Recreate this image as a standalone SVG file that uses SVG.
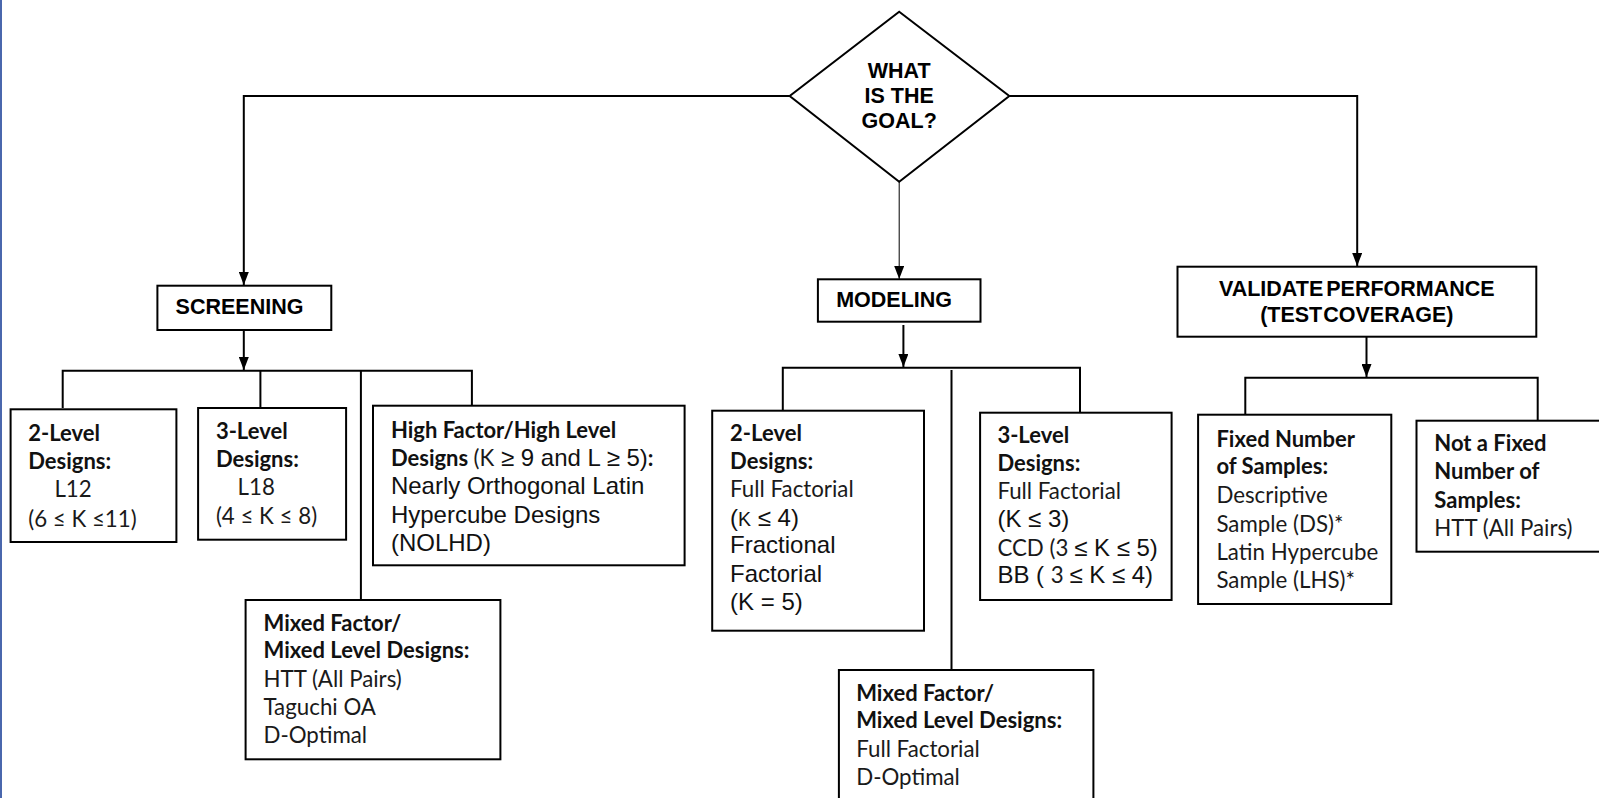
<svg xmlns="http://www.w3.org/2000/svg" width="1599" height="798" viewBox="0 0 1599 798">
<style>
.bx{fill:#fff;stroke:#000;stroke-width:2}
.ln{fill:none;stroke:#000;stroke-width:2}
.thin{fill:none;stroke:#000;stroke-width:1}
.hd{font-family:"Liberation Sans",Arial,sans-serif;font-weight:bold;font-size:21.5px;fill:#000}
.b{font-family:Lato,"Open Sans",sans-serif;font-weight:bold;font-size:22px;fill:#111}
.r{font-family:Lato,"Open Sans",sans-serif;font-size:22.3px;fill:#1a1a1a}
.a{font-family:"Liberation Sans",Arial,sans-serif;font-size:24px;fill:#111}
.as{font-family:"Liberation Sans",Arial,sans-serif;font-size:19.5px;fill:#111}
</style>
<defs>
<marker id="ar" markerUnits="userSpaceOnUse" markerWidth="14" markerHeight="10" refX="13" refY="5" orient="auto">
<path d="M0,0 L13,5 L0,10 Z" fill="#000"/>
</marker>
</defs>
<rect x="0" y="0" width="1599" height="798" fill="#fff"/>
<rect x="0" y="0" width="2" height="798" fill="#4a67ad"/>

<g id="connectors">
<path class="ln" d="M789.7,96 H243.8 V285" marker-end="url(#ar)"/>
<path class="ln" d="M1009.3,96 H1357.2 V266" marker-end="url(#ar)"/>
<path class="thin" d="M899.2,182 V279" marker-end="url(#ar)"/>
<path class="ln" d="M243.8,330 V370" marker-end="url(#ar)"/>
<path class="ln" d="M62.7,408 V370.7 H471.9 V405"/>
<path class="ln" d="M260.4,370.7 V407"/>
<path class="ln" d="M360.9,370.7 V600"/>
<path class="ln" d="M903.4,325 V367" marker-end="url(#ar)"/>
<path class="ln" d="M782.8,410 V367.7 H1080 V412"/>
<path class="ln" d="M951.5,370 V670"/>
<path class="ln" d="M1366.5,337 V377" marker-end="url(#ar)"/>
<path class="ln" d="M1245.3,414 V377.7 H1537.7 V420"/>
</g>

<g id="goal">
<polygon class="bx" points="899.2,11.7 1009.3,96 899.2,181.7 789.7,96"/>
<text class="hd" x="899.2" y="77.7" text-anchor="middle">WHAT</text>
<text class="hd" x="899.2" y="103.3" text-anchor="middle">IS THE</text>
<text class="hd" x="899.2" y="128.3" text-anchor="middle">GOAL?</text>
</g>

<g id="screening">
<rect class="bx" x="157.4" y="285.7" width="173.9" height="44.3"/>
<text class="hd" x="175.6" y="314">SCREENING</text>
</g>

<g id="modeling">
<rect class="bx" x="817.9" y="279.3" width="162.6" height="42.4"/>
<text class="hd" x="836.2" y="307.3">MODELING</text>
</g>

<g id="validate">
<rect class="bx" x="1177.5" y="266.7" width="358.8" height="70"/>
<text class="hd" x="1356.8" y="295.7" text-anchor="middle" word-spacing="-3">VALIDATE PERFORMANCE</text>
<text class="hd" x="1356.8" y="321.7" text-anchor="middle" word-spacing="-5">(TEST COVERAGE)</text>
</g>

<g id="scr-2level">
<rect class="bx" x="10.6" y="409.3" width="165.8" height="132.7"/>
<text class="b" x="28.2" y="441">2-Level</text>
<text class="b" x="28.2" y="469.3">Designs:</text>
<text class="r" x="54.4" y="497.3">L12</text>
<text class="r" x="28.2" y="526.7" font-size="24.5">(6 ≤ K ≤11)</text>
</g>

<g id="scr-3level">
<rect class="bx" x="198.1" y="408" width="148" height="131.7"/>
<text class="b" x="215.9" y="439">3-Level</text>
<text class="b" x="215.9" y="467.3">Designs:</text>
<text class="r" x="237.6" y="495">L18</text>
<text class="r" x="215.9" y="524" font-size="24.5">(4 ≤ K ≤ 8)</text>
</g>

<g id="scr-high">
<rect class="bx" x="373" y="405.7" width="311.6" height="159.6"/>
<text class="b" x="390.9" y="438.3">High Factor/High Level</text>
<text x="390.9" y="466"><tspan class="b">Designs </tspan><tspan class="r">(K</tspan><tspan class="a"> ≥ 9 and L ≥ 5)</tspan><tspan class="b">:</tspan></text>
<text class="a" x="390.9" y="494.3">Nearly Orthogonal Latin</text>
<text class="a" x="390.9" y="522.7">Hypercube Designs</text>
<text class="a" x="390.9" y="550.7">(NOLHD)</text>
</g>

<g id="scr-mixed">
<rect class="bx" x="245.6" y="600" width="254.8" height="159.3"/>
<text class="b" x="263.5" y="630.7">Mixed Factor/</text>
<text class="b" x="263.5" y="658.3">Mixed Level Designs:</text>
<text class="r" x="263.5" y="686.7">HTT (All Pairs)</text>
<text class="r" x="263.5" y="715">Taguchi OA</text>
<text class="r" x="263.5" y="743.3">D-Optimal</text>
</g>

<g id="mod-2level">
<rect class="bx" x="712.2" y="410.7" width="211.8" height="220"/>
<text class="b" x="730.1" y="441">2-Level</text>
<text class="b" x="730.1" y="469.3">Designs:</text>
<text class="r" x="730.1" y="497.3">Full Factorial</text>
<text x="730.1" y="526"><tspan class="a">(</tspan><tspan class="as">K</tspan><tspan class="a"> ≤ 4)</tspan></text>
<text class="a" x="730.1" y="553.3">Fractional</text>
<text class="a" x="730.1" y="581.7">Factorial</text>
<text class="a" x="730.1" y="610">(K = 5)</text>
</g>

<g id="mod-3level">
<rect class="bx" x="980.1" y="412.7" width="191.5" height="187.3"/>
<text class="b" x="997.4" y="443.3">3-Level</text>
<text class="b" x="997.4" y="471">Designs:</text>
<text class="r" x="997.4" y="499.3">Full Factorial</text>
<text class="a" x="997.4" y="527.3">(K ≤ 3)</text>
<text x="997.4" y="556"><tspan class="r">CCD (3 </tspan><tspan class="a">≤ K ≤ 5)</tspan></text>
<text x="997.4" y="583.3"><tspan class="a">BB ( </tspan><tspan class="r">3 </tspan><tspan class="a">≤ K ≤ 4)</tspan></text>
</g>

<g id="mod-mixed">
<rect class="bx" x="838.9" y="670" width="254.5" height="140"/>
<text class="b" x="856.2" y="700.7">Mixed Factor/</text>
<text class="b" x="856.2" y="728.3">Mixed Level Designs:</text>
<text class="r" x="856.2" y="756.7">Full Factorial</text>
<text class="r" x="856.2" y="785">D-Optimal</text>
</g>

<g id="val-fixed">
<rect class="bx" x="1198.1" y="414.7" width="193.2" height="189.3"/>
<text class="b" x="1216.4" y="446.7">Fixed Number</text>
<text class="b" x="1216.4" y="474.3">of Samples:</text>
<text class="r" x="1216.4" y="502.7">Descriptive</text>
<text class="r" x="1216.4" y="531.7">Sample (DS)*</text>
<text class="r" x="1216.4" y="560">Latin Hypercube</text>
<text class="r" x="1216.4" y="588.3">Sample (LHS)*</text>
</g>

<g id="val-notfixed">
<rect class="bx" x="1416.5" y="420.7" width="200" height="131"/>
<text class="b" x="1434.3" y="450.7">Not a Fixed</text>
<text class="b" x="1434.3" y="479.3">Number of</text>
<text class="b" x="1434.3" y="507.7">Samples:</text>
<text class="r" x="1434.3" y="536">HTT (All Pairs)</text>
</g>
</svg>
